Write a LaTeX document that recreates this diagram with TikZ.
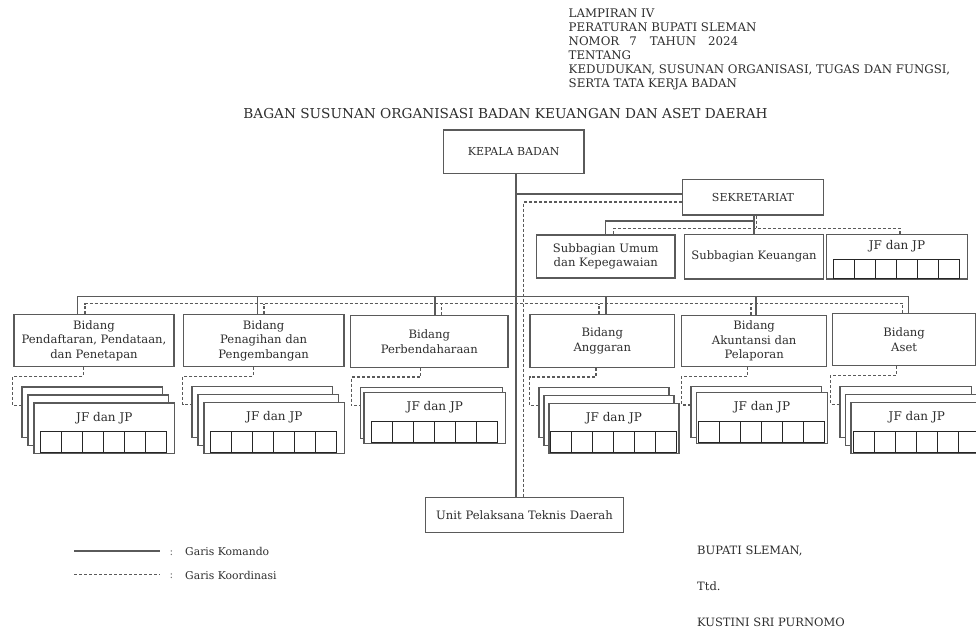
\documentclass[tikz,border=0pt]{standalone}
\usepackage{fontspec}
\setmainfont{DejaVu Serif}
\usetikzlibrary{calc}
\definecolor{ln}{HTML}{5A5A5A}
\definecolor{tx}{HTML}{2E2E2E}
\newcommand\bfs[1]{\fontsize{#1}{14.5}\selectfont}
\newcommand\jfstack[8]{%
  \foreach \k in {#8,...,1}{%
    \node[box, minimum width=#4pt, minimum height=#5pt] (#1-\k) at ({#2-\k*#6},{#3-\k*#7}) {};
  }
  \node[box, minimum width=#4pt, minimum height=#5pt] (#1) at (#2,#3) {};
  \node[lbl] (#1t) at ($(#1.north)+(0,15.5)$) {JF dan JP};
  \pgfmathsetmacro\gxx{#2+#4/2-63}%
  \pgfmathsetmacro\gyy{#3+#5-21.5}%
  \draw[grd] (\gxx,\gyy) rectangle ++(126,21.5);
  \foreach \i in {1,...,5}{\draw[grd] ({\gxx+21*\i},\gyy) -- ++(0,21.5);}
}
\newcommand\jfconn[3]{%
  \draw[crd] ($(#1.south west)+(#3,0)$) -- ++(0,9) -| ($(#2.north west)+(-8.5,19)$) -- ($(#2.north west)+(0,19)$);
}
\begin{document}
\begin{tikzpicture}[x=1pt,y=-1pt,
  box/.style={draw=ln, line width=1.3pt, fill=white, text=tx, anchor=north west,
    inner sep=0pt, align=center, font=\bfs{11.6}},
  lbl/.style={text=tx, inner sep=0pt, font=\bfs{12}},
  txt/.style={text=tx, inner sep=0pt, anchor=base west},
  cmd/.style={draw=ln, line width=1.3pt},
  crd/.style={draw=ln, line width=1.1pt, dash pattern=on 3pt off 2pt},
  grd/.style={draw=black!85, line width=1.1pt},
]
\useasboundingbox (0,0) rectangle (976,632);
\clip (0,0) rectangle (976,632);
\fill[white] (0,0) rectangle (976,632);

% header
\node[txt, font=\bfs{11.8}] (h1) at (568.5,17.5) {LAMPIRAN IV};
\node[txt, font=\bfs{11.8}] (h2) at (568.5,31.5) {PERATURAN BUPATI SLEMAN};
\node[txt, font=\bfs{11.8}] (h3) at (568.5,45.5) {NOMOR\hspace{10pt}7\hspace{13pt}TAHUN\hspace{12pt}2024};
\node[txt, font=\bfs{11.8}] (h4) at (568.5,59.5) {TENTANG};
\node[txt, font=\bfs{11.8}] (h5) at (568.5,73.5) {KEDUDUKAN, SUSUNAN ORGANISASI, TUGAS DAN FUNGSI,};
\node[txt, font=\bfs{11.8}] (h6) at (568.5,87.5) {SERTA TATA KERJA BADAN};
\node[text=tx, inner sep=0pt, anchor=base, font=\bfs{13.65}] (title) at (505.5,118) {BAGAN SUSUNAN ORGANISASI BADAN KEUANGAN DAN ASET DAERAH};

% top boxes
\node[box, minimum width=140.6pt, minimum height=43.4pt, font=\bfs{11}] (kepala) at (442.7,129.3) {KEPALA BADAN};
\node[box, minimum width=140.7pt, minimum height=35.3pt, font=\bfs{11}] (sekr) at (682,179) {SEKRETARIAT};
\node[box, minimum width=138.3pt, minimum height=43pt] (umum) at (536,234.3) {Subbagian Umum\\dan Kepegawaian};
\node[box, minimum width=138.7pt, minimum height=44.3pt] (keu) at (684,234) {Subbagian Keuangan};
\node[box, minimum width=140.7pt, minimum height=44.3pt] (jft) at (826,234) {};
\node[lbl] (jftt) at ($(jft.north)+(0,12)$) {JF dan JP};
\draw[grd] (833.3,259.3) rectangle ++(126,19);
\foreach \i in {1,...,5}{\draw[grd] ({833.3+21*\i},259.3) -- ++(0,19);}

% bidang boxes
\node[box, minimum width=160pt, minimum height=52pt] (b1) at (13.3,314) {Bidang\\Pendaftaran, Pendataan,\\dan Penetapan};
\node[box, minimum width=160.6pt, minimum height=52pt] (b2) at (182.7,314) {Bidang\\Penagihan dan\\Pengembangan};
\node[box, minimum width=157.3pt, minimum height=51.7pt] (b3) at (350,315) {Bidang\\Perbendaharaan};
\node[box, minimum width=144.7pt, minimum height=52.7pt] (b4) at (529.3,314) {Bidang\\Anggaran};
\node[box, minimum width=145pt, minimum height=51pt] (b5) at (681,315) {Bidang\\Akuntansi dan\\Pelaporan};
\node[box, minimum width=143.5pt, minimum height=52pt] (b6) at (831.7,313) {Bidang\\Aset};

% JF stacks
\jfstack{jf1}{33.3}{402.3}{140.7}{50.4}{6}{8}{2}
\jfstack{jf2}{203.3}{401.7}{140.7}{51}{6}{8}{2}
\jfstack{jf3}{363.3}{391.7}{141.7}{51}{3.5}{5}{1}
\jfstack{jf4}{548.3}{402.7}{130}{50}{5}{8}{2}
\jfstack{jf5}{696}{392}{130.7}{50.7}{5.7}{6}{1}
\jfstack{jf6}{850.3}{401.7}{131.7}{51}{5.5}{8}{2}

% UPTD
\node[box, minimum width=197.7pt, minimum height=35pt] (uptd) at (425,496.7) {Unit Pelaksana Teknis Daerah};

% command lines
\draw[cmd] ($(kepala.south west)+(73.3,0)$) coordinate (k) -- (k |- uptd.north);
\draw[cmd] ($(sekr.north west)+(0,15)$) coordinate (ss) -- (k |- ss);
\coordinate (busS) at (516,296.7);
\draw[cmd] ($(b1.north west)+(64,0)$) |- (busS);
\draw[cmd] ($(b2.north west)+(74.6,0)$) |- (busS);
\draw[cmd] ($(b3.north west)+(85,0)$) |- (busS);
\draw[cmd] ($(b4.north west)+(76.7,0)$) |- (busS);
\draw[cmd] ($(b5.north west)+(75,0)$) |- (busS);
\draw[cmd] ($(b6.north west)+(76.6,0)$) |- (busS);
\draw[cmd] (keu.north |- sekr.south) -- (keu.north);
\coordinate (sb) at ($(keu.north)+(0,-13)$);
\draw[cmd] (umum.north) |- (sb);

% coordination lines
\draw[crd] ($(sekr.north west)+(0,23)$) -| ($(uptd.north)+(-0.8,0)$);
\coordinate (busD) at (523,303.5);
\draw[crd] ($(b1.north west)+(71.7,0)$) |- (busD) -| ($(b6.north west)+(71,0)$);
\draw[crd] ($(b2.north west)+(81.3,0)$) coordinate (t2) -- (t2 |- busD);
\draw[crd] ($(b3.north west)+(91.7,0)$) coordinate (t3) -- (t3 |- busD);
\draw[crd] ($(b4.north west)+(69.7,0)$) coordinate (t4) -- (t4 |- busD);
\draw[crd] ($(b5.north west)+(70,0)$) coordinate (t5) -- (t5 |- busD);
\coordinate (sd) at ($(jft.north)+(3,-5.7)$);
\draw[crd] ($(umum.north)+(8,0)$) |- (sd) -- ($(jft.north)+(3,0)$);
\draw[crd] ($(sekr.south)+(3.7,0)$) coordinate (t7) -- (t7 |- sd);

\jfconn{b1}{jf1-2}{70}
\jfconn{b2}{jf2-2}{70.6}
\jfconn{b3}{jf3-1}{70.7}
\jfconn{b4}{jf4-2}{66.7}
\jfconn{b5}{jf5-1}{66.7}
\jfconn{b6}{jf6-2}{65}

% legend
\coordinate (l1a) at (74.3,551);
\coordinate (l1b) at (160,551);
\coordinate (l2a) at (74.3,574.5);
\coordinate (l2b) at (160,574.5);
\draw[cmd] (l1a) -- (l1b);
\draw[crd] (l2a) -- (l2b);
\node[txt, font=\bfs{11}, text=black!55] (c1) at (169.5,555) {:};
\node[txt, font=\bfs{11}, text=black!55] (c2) at (169.5,578.5) {:};
\node[txt, font=\bfs{10.8}] (lg1) at (185,555.5) {Garis Komando};
\node[txt, font=\bfs{10.8}] (lg2) at (185,579) {Garis Koordinasi};

% signature
\node[txt, font=\bfs{11.5}] (s1) at (697,554.5) {BUPATI SLEMAN,};
\node[txt, font=\bfs{11.5}] (s2) at (697,590.5) {Ttd.};
\node[txt, font=\bfs{11.5}] (s3) at (697,626) {KUSTINI SRI PURNOMO};
\end{tikzpicture}
\end{document}
